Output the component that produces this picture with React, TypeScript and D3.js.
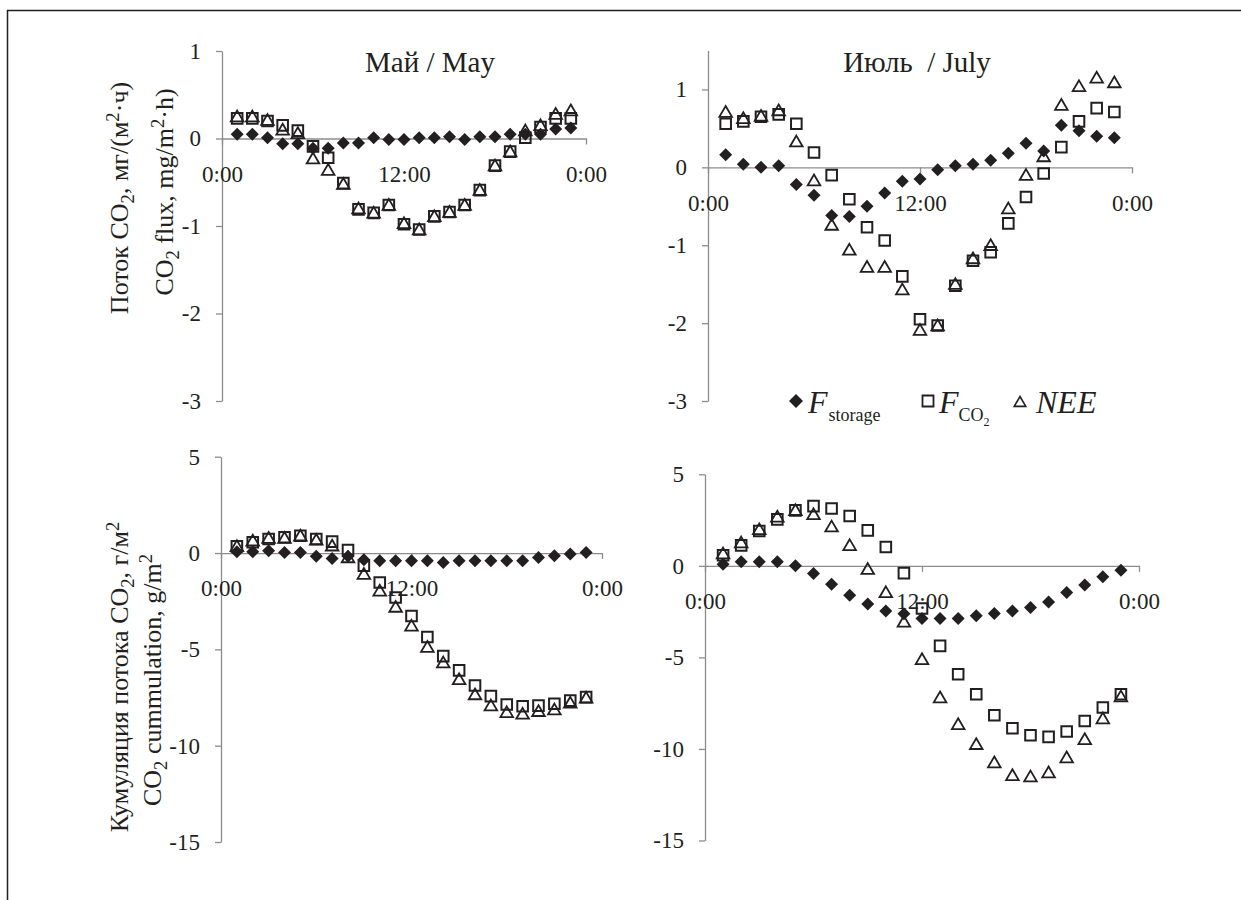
import * as d3 from 'd3';
import * as React from 'react';

const { useRef, useEffect } = React;

const width = 1241;
const height = 900;
const FONT = '"Liberation Serif", "Times New Roman", serif';
const INK = '#231f20';
const AXIS = '#8c8c8c';

// hours of the day (x)
const hours = [1, 2, 3, 4, 5, 6, 7, 8, 9, 10, 11, 12, 13, 14, 15, 16, 17, 18, 19, 20, 21, 22, 23];
const xTickValues = [0, 12, 24];
const xTickLabels = ['0:00', '12:00', '0:00'];

const fluxTicks = [-3, -2, -1, 0, 1];
const cumTicks = [-15, -10, -5, 0, 5];

// CO2 flux, mg/(m2 h) - May
const mayFluxStorage = [0.05, 0.05, 0.01, -0.06, -0.06, -0.11, -0.11, -0.05, -0.05, 0.01, -0.01, -0.01, 0.01, 0.01, 0.02, -0.01, 0.02, 0.02, 0.05, 0.05, 0.05, 0.11, 0.12];
const mayFluxFco2 = [0.23, 0.23, 0.2, 0.15, 0.09, -0.09, -0.22, -0.51, -0.81, -0.85, -0.76, -0.98, -1.04, -0.89, -0.84, -0.76, -0.59, -0.31, -0.15, 0.01, 0.13, 0.23, 0.23];
const mayFluxNee = [0.25, 0.25, 0.21, 0.1, 0.06, -0.23, -0.36, -0.52, -0.8, -0.85, -0.76, -0.97, -1.04, -0.89, -0.84, -0.76, -0.59, -0.31, -0.15, 0.09, 0.15, 0.28, 0.32];

// CO2 flux - July
const julyFluxStorage = [0.16, 0.04, 0.0, 0.02, -0.22, -0.36, -0.62, -0.63, -0.5, -0.33, -0.18, -0.15, -0.03, 0.02, 0.04, 0.09, 0.18, 0.31, 0.21, 0.54, 0.47, 0.4, 0.38];
const julyFluxFco2 = [0.56, 0.59, 0.65, 0.68, 0.56, 0.19, -0.1, -0.41, -0.77, -0.94, -1.4, -1.95, -2.03, -1.52, -1.2, -1.09, -0.72, -0.38, -0.08, 0.26, 0.59, 0.76, 0.71];
const julyFluxNee = [0.71, 0.63, 0.66, 0.73, 0.33, -0.17, -0.74, -1.06, -1.28, -1.28, -1.57, -2.09, -2.03, -1.5, -1.17, -1.0, -0.53, -0.1, 0.14, 0.8, 1.04, 1.15, 1.09];

// CO2 cumulation, g/m2 - May
const mayCumStorage = [0.07, 0.07, 0.12, 0.03, 0.03, -0.17, -0.28, -0.17, -0.35, -0.4, -0.4, -0.4, -0.4, -0.49, -0.4, -0.4, -0.4, -0.4, -0.4, -0.23, -0.14, -0.05, 0.03];
const mayCumFco2 = [0.35, 0.56, 0.73, 0.82, 0.9, 0.73, 0.59, 0.16, -0.66, -1.53, -2.31, -3.27, -4.36, -5.35, -6.09, -6.88, -7.43, -7.86, -7.95, -7.92, -7.82, -7.66, -7.48];
const mayCumNee = [0.35, 0.64, 0.78, 0.78, 0.9, 0.68, 0.38, -0.23, -1.09, -1.96, -2.8, -3.78, -4.88, -5.69, -6.56, -7.34, -7.92, -8.27, -8.35, -8.21, -8.13, -7.78, -7.52];

// CO2 cumulation - July
const julyCumStorage = [0.09, 0.22, 0.22, 0.22, 0, -0.42, -1.0, -1.6, -2.08, -2.46, -2.62, -2.88, -2.88, -2.88, -2.73, -2.6, -2.46, -2.27, -1.97, -1.45, -1.04, -0.6, -0.24];
const julyCumFco2 = [0.58, 1.12, 1.9, 2.54, 3.03, 3.26, 3.13, 2.72, 1.94, 1.03, -0.4, -2.33, -4.37, -5.92, -7.01, -8.16, -8.87, -9.25, -9.34, -9.05, -8.47, -7.74, -7.01];
const julyCumNee = [0.67, 1.27, 1.99, 2.68, 3.04, 2.81, 2.14, 1.12, -0.18, -1.45, -3.06, -5.1, -7.19, -8.65, -9.74, -10.74, -11.44, -11.51, -11.29, -10.47, -9.47, -8.34, -7.14];

type Panel = {
  title?: string;
  titleX?: number;
  xRange: [number, number];
  yRange: [number, number];
  domain: [number, number];
  ticks: number[];
  storage: number[];
  fco2: number[];
  nee: number[];
};

const panels: Panel[] = [
  { title: 'Май / May', titleX: 430, xRange: [222, 586], yRange: [401, 51], domain: [-3, 1], ticks: fluxTicks, storage: mayFluxStorage, fco2: mayFluxFco2, nee: mayFluxNee },
  { title: 'Июль\u00a0 / July', titleX: 917, xRange: [708, 1132], yRange: [401, 50.5], domain: [-3, 1.5], ticks: fluxTicks, storage: julyFluxStorage, fco2: julyFluxFco2, nee: julyFluxNee },
  { xRange: [221, 602], yRange: [842, 456.7], domain: [-15, 5], ticks: cumTicks, storage: mayCumStorage, fco2: mayCumFco2, nee: mayCumNee },
  { xRange: [705, 1139], yRange: [840.5, 474.3], domain: [-15, 5], ticks: cumTicks, storage: julyCumStorage, fco2: julyCumFco2, nee: julyCumNee },
];

type Sel = d3.Selection<any, any, any, any>;

const diamond = (r: number) => `M0,${-r}L${r},0L0,${r}L${-r},0Z`;
const square = (r: number) => `M${-r},${-r}H${r}V${r}H${-r}Z`;
const triangle = (r: number) => `M0,${-r}L${r * 1.05},${r * 0.8}H${-r * 1.05}Z`;

// text with sub/superscripts: parts of [text, shift]
function rich(t: Sel, parts: Array<[string, number?]>, size: number) {
  let prev = 0;
  for (const [s, shift = 0] of parts) {
    t.append('tspan')
      .attr('dy', shift - prev)
      .attr('font-size', shift ? size * 0.72 : size)
      .text(s);
    prev = shift;
  }
}

function drawPanel(g: Sel, p: Panel) {
  const x = d3.scaleLinear().domain([0, 24]).range(p.xRange);
  const y = d3.scaleLinear().domain(p.domain).range(p.yRange);

  const yAxis = g
    .append('g')
    .attr('transform', `translate(${x(0)},0)`)
    .call(
      d3
        .axisLeft(y)
        .tickValues(p.ticks)
        .tickSize(6)
        .tickSizeOuter(0)
        .tickPadding(15)
        .tickFormat(d => String(d)),
    );
  yAxis.select('.domain').attr('stroke', AXIS).attr('stroke-width', 1.3);
  yAxis.selectAll('.tick line').attr('stroke', AXIS).attr('stroke-width', 1.3);
  yAxis.selectAll('.tick text').attr('font-family', FONT).attr('font-size', 23).attr('fill', INK);

  const xAxis = g
    .append('g')
    .attr('transform', `translate(0,${y(0)})`)
    .call(
      d3
        .axisBottom(x)
        .tickValues(xTickValues)
        .tickSize(6)
        .tickSizeOuter(0)
        .tickPadding(21)
        .tickFormat((d, i) => xTickLabels[i]),
    );
  xAxis.select('.domain').attr('stroke', AXIS).attr('stroke-width', 1.3);
  xAxis.selectAll('.tick line').attr('stroke', AXIS).attr('stroke-width', 1.3);
  xAxis.selectAll('.tick text').attr('font-family', FONT).attr('font-size', 23).attr('fill', INK);

  if (p.title) {
    g.append('text')
      .attr('x', p.titleX as number)
      .attr('y', 72)
      .attr('text-anchor', 'middle')
      .attr('font-family', FONT)
      .attr('font-size', 29)
      .attr('fill', INK)
      .text(p.title);
  }

  const pts = (vals: number[]) => hours.map((h, i) => [x(h), y(vals[i])]);

  g.append('g')
    .selectAll('path')
    .data(pts(p.storage))
    .join('path')
    .attr('transform', d => `translate(${d[0]},${d[1]})`)
    .attr('d', diamond(6.5))
    .attr('fill', INK);

  g.append('g')
    .selectAll('path')
    .data(pts(p.fco2))
    .join('path')
    .attr('transform', d => `translate(${d[0]},${d[1]})`)
    .attr('d', square(5.3))
    .attr('fill', 'none')
    .attr('stroke', INK)
    .attr('stroke-width', 2);

  g.append('g')
    .selectAll('path')
    .data(pts(p.nee))
    .join('path')
    .attr('transform', d => `translate(${d[0]},${d[1]})`)
    .attr('d', triangle(6))
    .attr('fill', 'none')
    .attr('stroke', INK)
    .attr('stroke-width', 1.8);
}

export default () => {
  const rootRef = useRef<SVGSVGElement>(null);

  useEffect(() => {
    document.body.style.margin = '0';
    document.documentElement.style.overflow = 'hidden';

    const el = rootRef.current;
    if (!el) return;
    const svg = d3.select(el);
    svg.selectAll('*').remove();

    svg.append('rect').attr('width', width).attr('height', height).attr('fill', '#fff');

    // outer frame (open on the right and bottom)
    svg.append('line')
      .attr('x1', 7.5).attr('x2', 7.5).attr('y1', 10).attr('y2', height)
      .attr('stroke', INK).attr('stroke-width', 1.5);
    svg.append('line')
      .attr('x1', 7).attr('x2', width).attr('y1', 10.5).attr('y2', 10.5)
      .attr('stroke', INK).attr('stroke-width', 1.5);

    for (const p of panels) drawPanel(svg.append('g'), p);

    // y axis titles
    const label = (cx: number, cy: number, parts: Array<[string, number?]>) => {
      const t = svg
        .append('text')
        .attr('transform', `translate(${cx},${cy}) rotate(-90)`)
        .attr('text-anchor', 'middle')
        .attr('font-family', FONT)
        .attr('fill', INK)
        .attr('font-size', 26);
      rich(t, parts, 26);
    };
    label(128, 198, [['Поток CO'], ['2', 6], [', мг/(м'], ['2', -9], ['·ч)']]);
    label(173, 192, [['CO'], ['2', 6], [' flux, mg/m'], ['2', -9], ['·h)']]);
    label(128, 677, [['Кумуляция потока CO'], ['2', 6], [', г/м'], ['2', -9]]);
    label(161, 680, [['CO'], ['2', 6], [' cummulation, g/m'], ['2', -9]]);

    // legend
    const lg = svg.append('g').attr('font-family', FONT).attr('fill', INK);
    lg.append('path').attr('transform', 'translate(796,401)').attr('d', diamond(7)).attr('fill', INK);
    const t1 = lg.append('text').attr('x', 808).attr('y', 413).attr('font-style', 'italic').attr('font-size', 32);
    t1.append('tspan').text('F');
    t1.append('tspan').attr('font-style', 'normal').attr('font-size', 18).attr('dy', 8).attr('dx', 1).text('storage');

    lg.append('path').attr('transform', 'translate(928,401)').attr('d', square(5.5)).attr('fill', 'none').attr('stroke', INK).attr('stroke-width', 1.8);
    const t2 = lg.append('text').attr('x', 939).attr('y', 413).attr('font-style', 'italic').attr('font-size', 32);
    t2.append('tspan').text('F');
    t2.append('tspan').attr('font-style', 'normal').attr('font-size', 18).attr('dy', 8).text('CO');
    t2.append('tspan').attr('font-style', 'normal').attr('font-size', 12).attr('dy', 5).text('2');

    lg.append('path').attr('transform', 'translate(1020,402)').attr('d', triangle(5.5)).attr('fill', 'none').attr('stroke', INK).attr('stroke-width', 1.6);
    lg.append('text').attr('x', 1036).attr('y', 413).attr('font-style', 'italic').attr('font-size', 32).text('NEE');
  }, []);

  return (
    <svg
      ref={rootRef}
      width={width}
      height={height}
      style={{ position: 'absolute', left: 0, top: 0, display: 'block' }}
    />
  );
};
